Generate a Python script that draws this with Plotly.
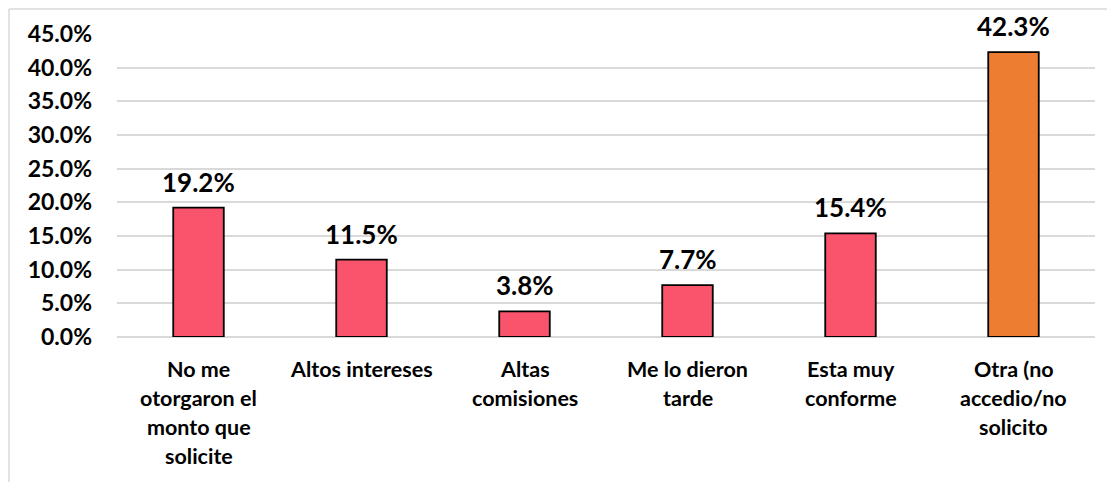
import plotly.graph_objects as go

categories = ["No me otorgaron el monto que solicite", "Altos intereses", "Altas comisiones",
              "Me lo dieron tarde", "Esta muy conforme", "Otra (no accedio/no solicito"]
label_lines = [["No me", "otorgaron el", "monto que", "solicite"],
               ["Altos intereses"],
               ["Altas", "comisiones"],
               ["Me lo dieron", "tarde"],
               ["Esta muy", "conforme"],
               ["Otra (no", "accedio/no", "solicito"]]
values = [19.2, 11.5, 3.8, 7.7, 15.4, 42.3]
colors = ["#F9546B", "#F9546B", "#F9546B", "#F9546B", "#F9546B", "#ED7D31"]
y_ticks = [0, 5, 10, 15, 20, 25, 30, 35, 40, 45]

FONT = "Lato"
W, H = 1107, 474
L, R, T, B = 109, 20, 26, 145
pw, ph = W - L - R, H - T - B

fig = go.Figure()
fig.add_trace(go.Bar(
    x=categories, y=values,
    marker=dict(color=colors, line=dict(color="#000000", width=1.8)),
    width=0.31,
    hoverinfo="skip",
))

annotations = []
for c, v in zip(categories, values):
    annotations.append(dict(x=c, y=v, xref="x", yref="y", text=f"<b>{v:.1f}%</b>",
                            showarrow=False, yanchor="middle", yshift=26,
                            font=dict(family=FONT, size=26, color="#000000", weight=900)))
for c, lines in zip(categories, label_lines):
    for i, ln in enumerate(lines):
        annotations.append(dict(x=c, y=0, xref="x", yref="paper", text=f"<b>{ln}</b>",
                                showarrow=False, yanchor="middle", yshift=-(32 + 29 * i),
                                font=dict(family=FONT, size=21.5, color="#000000", weight=900)))

fig.update_layout(
    width=W, height=H,
    margin=dict(l=L, r=R, t=T, b=B),
    paper_bgcolor="#FFFFFF", plot_bgcolor="#FFFFFF",
    showlegend=False,
    annotations=annotations,
    xaxis=dict(showticklabels=False, showgrid=False, zeroline=False, showline=False,
               ticks=""),
    yaxis=dict(range=[0, 45], tickvals=y_ticks,
               ticktext=[f"<b>{t:.1f}%</b>" for t in y_ticks],
               tickfont=dict(family=FONT, size=23, color="#000000", weight=900),
               showgrid=True, gridcolor="#D9D9D9", gridwidth=1.5,
               zeroline=True, zerolinecolor="#D9D9D9", zerolinewidth=1.5,
               showline=False, ticks="", ticklabelstandoff=24),
    shapes=[
        dict(type="line", xref="paper", yref="paper",
             x0=-(L - 1) / pw, x1=1 + R / pw, y0=1 + (T - 1) / ph, y1=1 + (T - 1) / ph,
             line=dict(color="#D9D9D9", width=1.5)),
        dict(type="line", xref="paper", yref="paper",
             x0=-(L - 1) / pw, x1=-(L - 1) / pw, y0=1 + (T - 1) / ph, y1=-B / ph,
             line=dict(color="#D9D9D9", width=1.5)),
    ],
)

fig.write_html("out.html")
